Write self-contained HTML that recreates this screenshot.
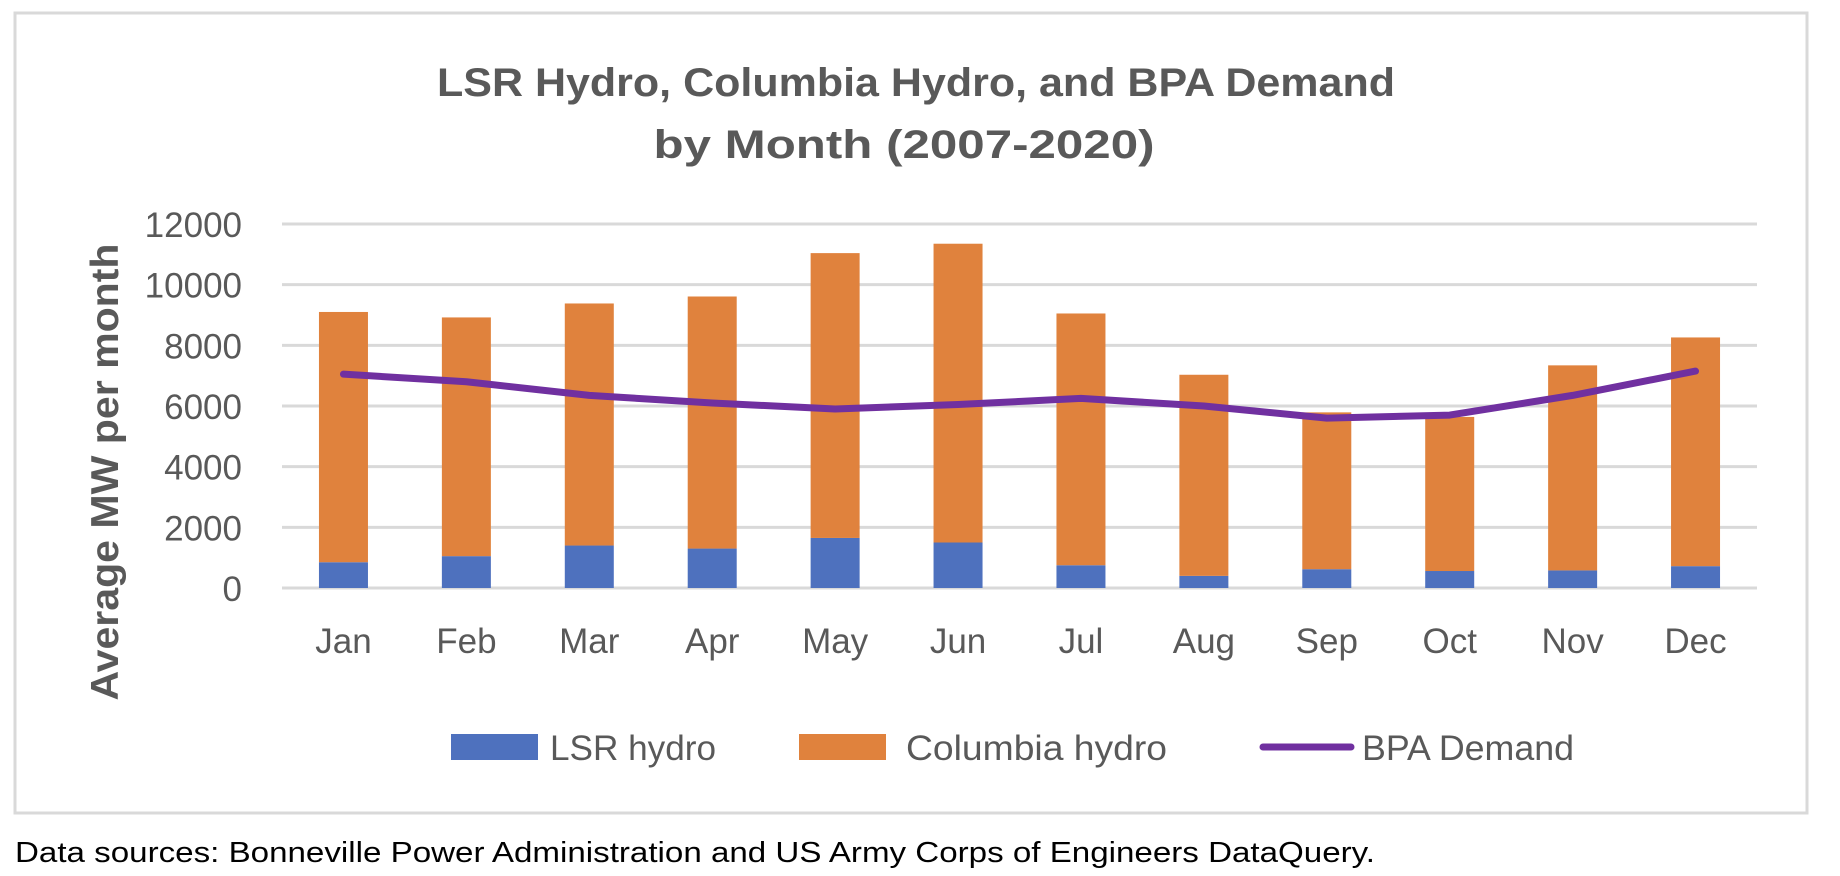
<!DOCTYPE html>
<html><head><meta charset="utf-8"><style>
html,body{margin:0;padding:0;background:#fff;}
svg{display:block;}
text{font-family:"Liberation Sans",sans-serif;}
</style></head><body>
<svg id="chart" width="1840" height="876" viewBox="0 0 1840 876">
<rect x="15" y="13" width="1792" height="800" fill="#fff" stroke="#d9d9d9" stroke-width="3"/>
<text x="916" y="96" text-anchor="middle" font-size="40" font-weight="bold" fill="#595959" textLength="958" lengthAdjust="spacingAndGlyphs">LSR Hydro, Columbia Hydro, and BPA Demand</text>
<text x="904" y="158" text-anchor="middle" font-size="40" font-weight="bold" fill="#595959" textLength="501" lengthAdjust="spacingAndGlyphs">by Month (2007-2020)</text>
<text transform="translate(118,472) rotate(-90)" text-anchor="middle" font-size="39" font-weight="bold" fill="#595959" textLength="457" lengthAdjust="spacingAndGlyphs">Average MW per month</text>
<g id="grid"></g>
<g id="bars"></g>
<g id="line"></g>
<g id="xlabels"></g>
<g>
<rect x="451" y="734" width="87" height="26" fill="#4e71be"/>
<text x="550" y="760" font-size="35" fill="#595959" textLength="166" lengthAdjust="spacingAndGlyphs">LSR hydro</text>
<rect x="799" y="734" width="87" height="26" fill="#e0823d"/>
<text x="906" y="760" font-size="35" fill="#595959" textLength="261" lengthAdjust="spacingAndGlyphs">Columbia hydro</text>
<line x1="1263" y1="747" x2="1351" y2="747" stroke="#7030a0" stroke-width="7" stroke-linecap="round"/>
<text x="1362" y="760" font-size="35" fill="#595959" textLength="212" lengthAdjust="spacingAndGlyphs">BPA Demand</text>
</g>
<text x="15" y="862" font-size="29" fill="#000" textLength="1360" lengthAdjust="spacingAndGlyphs">Data sources: Bonneville Power Administration and US Army Corps of Engineers DataQuery.</text>
</svg>
<script>
const months = ["Jan","Feb","Mar","Apr","May","Jun","Jul","Aug","Sep","Oct","Nov","Dec"];
const lsrHydro = [850,1050,1400,1300,1650,1500,750,400,620,560,580,720];
const columbiaHydro = [8250,7870,7980,8310,9390,9850,8300,6630,5170,5080,6760,7540];
const bpaDemand = [7050,6800,6350,6100,5900,6050,6250,6000,5600,5700,6350,7150];
const yTicks = [0,2000,4000,6000,8000,10000,12000];

const NS="http://www.w3.org/2000/svg";
const plotL=282, plotR=1757, y0=588, y12=224;
const yMax=12000;
function y(v){return y0-(v/yMax)*(y0-y12);}
const band=(plotR-plotL)/months.length;
function xc(i){return plotL+band*(i+0.5);}
const bw=49;
function mk(tag,attrs,parent){const e=document.createElementNS(NS,tag);for(const k in attrs)e.setAttribute(k,attrs[k]);parent.appendChild(e);return e;}

const grid=document.getElementById('grid');
yTicks.forEach(t=>{
  const l=mk('line',{x1:plotL,x2:plotR,y1:y(t),y2:y(t),stroke:'#d9d9d9','stroke-width':3},grid);
  
  
  const tx=mk('text',{x:242,y:y(t)+13,'text-anchor':'end','font-size':35,fill:'#595959'},grid);
  tx.textContent=t;
  
  
});

const bars=document.getElementById('bars');
months.forEach((m,i)=>{
  const x=xc(i)-bw/2;
  const b1=mk('rect',{x:x,y:y(lsrHydro[i]),width:bw,height:y0-y(lsrHydro[i]),fill:'#4e71be'},bars);
  
  
  const top=lsrHydro[i]+columbiaHydro[i];
  const b2=mk('rect',{x:x,y:y(top),width:bw,height:y(lsrHydro[i])-y(top),fill:'#e0823d'},bars);
  
  
});

const xl=document.getElementById('xlabels');
months.forEach((m,i)=>{
  const t=mk('text',{x:xc(i),y:653,'text-anchor':'middle','font-size':35,fill:'#595959'},xl);
  t.textContent=m;
  
  
});

const lg=document.getElementById('line');
const pts=bpaDemand.map((v,i)=>xc(i)+','+y(v)).join(' ');
const pl=mk('polyline',{points:pts,fill:'none',stroke:'#7030a0','stroke-width':7,'stroke-linecap':'round','stroke-linejoin':'round'},lg);


</script>
</body></html>
